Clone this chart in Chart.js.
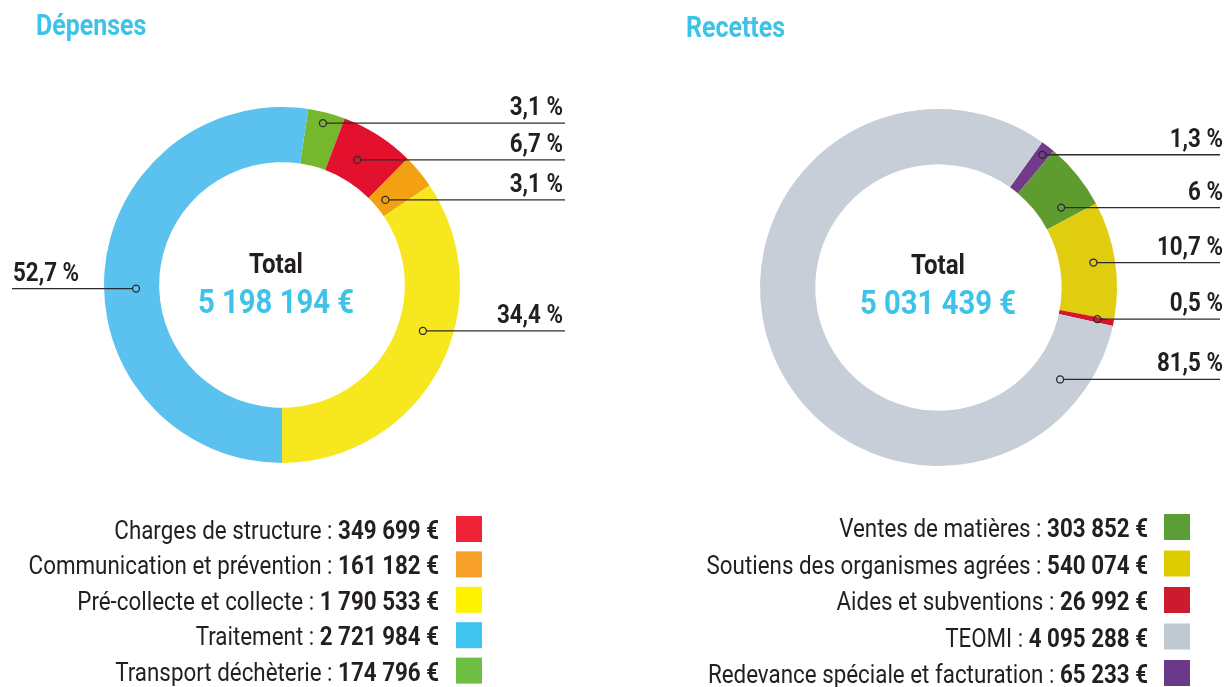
<!DOCTYPE html>
<html lang="fr">
<head>
<meta charset="utf-8">
<title>Dépenses et recettes</title>
<script src="https://cdn.jsdelivr.net/npm/chart.js@4/dist/chart.umd.min.js"></script>
<style>
  html, body { margin: 0; padding: 0; background: #fff; }
  body { width: 1227px; height: 687px; position: relative; overflow: hidden; }
  canvas { position: absolute; top: 0; }
  #graphDepenses { left: 0; }
  #graphRecettes { left: 613px; }
</style>
</head>
<body>
<canvas id="graphDepenses" width="613" height="687"></canvas>
<canvas id="graphRecettes" width="614" height="687"></canvas>
<script>
// Données : dépenses
const categoriesDepenses = ['Charges de structure', 'Communication et prévention', 'Pré-collecte et collecte', 'Traitement', 'Transport déchèterie'];
const montantsDepenses = [349699, 161182, 1790533, 2721984, 174796];
const pourcentagesDepenses = ['6,7 %', '3,1 %', '34,4 %', '52,7 %', '3,1 %'];
const couleursDepenses = ['#e3112e', '#f3a012', '#f6e71e', '#5bc2ef', '#75b82e'];
const couleursLegendeDepenses = ['#ee2337', '#f7a12a', '#fff200', '#40c4f0', '#6fbe44'];
const ordreDepenses = [4, 0, 1, 2, 3]; // ordre des parts dans le sens horaire

// Données : recettes
const categoriesRecettes = ['Ventes de matières', 'Soutiens des organismes agrées', 'Aides et subventions', 'TEOMI', 'Redevance spéciale et facturation'];
const montantsRecettes = [303852, 540074, 26992, 4095288, 65233];
const pourcentagesRecettes = ['6 %', '10,7 %', '0,5 %', '81,5 %', '1,3 %'];
const couleursRecettes = ['#5f9c30', '#e0cd0f', '#d3162b', '#c7ced8', '#743a8a'];
const couleursLegendeRecettes = ['#5a9e35', '#ddcd00', '#cc1a2e', '#c0c8d0', '#6a3a88'];
const ordreRecettes = [4, 0, 1, 2, 3];

const BLEU = '#3ec3e8';
const NOIR = '#231f20';
const SERRE = 0.86; // compression horizontale du texte (police étroite)

// Position des repères sur chaque part : t = avancée dans l'arc, u = profondeur dans l'anneau
const reperesDepenses = [
  { t: 0.43, u: 0.42 }, { t: 0.51, u: 0.20 }, { t: 0.42, u: 0.46 },
  { t: 0.47, u: 0.42, gauche: true }, { t: 0.47, u: 0.80 }
];
const reperesRecettes = [
  { t: 0.77, u: 0.42 }, { t: 0.49, u: 0.61 }, { t: 0.37, u: 0.70 },
  { t: 0.084, u: 0.53 }, { t: 0.54, u: 0.82 }
];

const formatEuros = (n) => n.toString().replace(/\B(?=(\d{3})+(?!\d))/g, ' ') + ' €';

function texte(ctx, str, x, y, font, couleur, align) {
  ctx.save();
  ctx.translate(x, y);
  ctx.scale(SERRE, 1);
  ctx.font = font;
  ctx.fillStyle = couleur;
  ctx.textAlign = align;
  ctx.textBaseline = 'alphabetic';
  ctx.fillText(str, 0, 0);
  ctx.restore();
}

function largeur(ctx, str, font) {
  ctx.save();
  ctx.font = font;
  const w = ctx.measureText(str).width * SERRE;
  ctx.restore();
  return w;
}

// Plugin : titre, total central, étiquettes reliées et légende
function habillage(cfg) {
  return {
    id: 'habillage',
    afterDatasetsDraw(chart) {
      const ctx = chart.ctx;
      const meta = chart.getDatasetMeta(0);

      texte(ctx, cfg.titre, cfg.titreX, cfg.titreY, 'bold 29px Roboto', BLEU, 'left');

      const total = cfg.montants.reduce((a, b) => a + b, 0);
      texte(ctx, 'Total', cfg.centreX, cfg.totalY, 'bold 28px Roboto', NOIR, 'center');
      texte(ctx, formatEuros(total), cfg.centreX, cfg.totalY + 40, 'bold 34px Roboto', BLEU, 'center');

      // étiquettes de pourcentage
      cfg.ordre.forEach((idx, k) => {
        const arc = meta.data[k].getProps(['x', 'y', 'startAngle', 'endAngle', 'innerRadius', 'outerRadius'], true);
        const rep = cfg.reperes[idx];
        const a = arc.startAngle + rep.t * (arc.endAngle - arc.startAngle);
        const r = arc.innerRadius + rep.u * (arc.outerRadius - arc.innerRadius);
        const px = arc.x + r * Math.cos(a);
        const py = arc.y + r * Math.sin(a);

        ctx.save();
        ctx.strokeStyle = '#2b2b2b';
        ctx.lineWidth = 1.3;
        ctx.beginPath();
        if (rep.gauche) {
          ctx.moveTo(cfg.ligneGauche, py);
          ctx.lineTo(px - 3.5, py);
        } else {
          ctx.moveTo(px + 3.5, py);
          ctx.lineTo(cfg.ligneDroite, py);
        }
        ctx.stroke();
        ctx.beginPath();
        ctx.arc(px, py, 3.5, 0, Math.PI * 2);
        ctx.stroke();
        ctx.restore();

        if (rep.gauche) {
          texte(ctx, cfg.pourcentages[idx], cfg.ligneGauche + 1, py - 8, 'bold 26px Roboto', NOIR, 'left');
        } else {
          texte(ctx, cfg.pourcentages[idx], cfg.texteDroite, py - 8, 'bold 26px Roboto', NOIR, 'right');
        }
      });

      // légende
      cfg.categories.forEach((cat, i) => {
        const haut = cfg.legendeY + i * cfg.legendePas;
        const base = haut + 23;
        const valeur = formatEuros(cfg.montants[i]);
        const fontG = 'bold 26px Roboto';
        const fontN = '26px Roboto';
        texte(ctx, valeur, cfg.legendeX, base, fontG, NOIR, 'right');
        const wv = largeur(ctx, valeur, fontG);
        texte(ctx, cat + ' : ', cfg.legendeX - wv, base, fontN, NOIR, 'right');
        ctx.fillStyle = cfg.couleursLegende[i];
        ctx.fillRect(cfg.carreX, haut, 26, 26);
      });
    }
  };
}

function creerGraphique(id, cfg) {
  const ctx = document.getElementById(id).getContext('2d');
  new Chart(ctx, {
    type: 'doughnut',
    data: {
      labels: cfg.ordre.map(i => cfg.categories[i]),
      datasets: [{
        data: cfg.ordre.map(i => cfg.montants[i]),
        backgroundColor: cfg.ordre.map(i => cfg.couleurs[i]),
        borderWidth: 0
      }]
    },
    options: {
      responsive: false,
      animation: false,
      devicePixelRatio: 1,
      cutout: '69%',
      rotation: cfg.rotation,
      layout: { padding: cfg.padding },
      plugins: {
        legend: { display: false },
        tooltip: { enabled: false }
      }
    },
    plugins: [habillage(cfg)]
  });
}

document.addEventListener('DOMContentLoaded', function () {
  creerGraphique('graphDepenses', {
    titre: 'Dépenses', titreX: 36, titreY: 35,
    categories: categoriesDepenses, montants: montantsDepenses,
    pourcentages: pourcentagesDepenses, couleurs: couleursDepenses,
    couleursLegende: couleursLegendeDepenses, ordre: ordreDepenses,
    reperes: reperesDepenses, rotation: 8.5,
    padding: { left: 104, right: 153, top: 107, bottom: 224 },
    centreX: 276, totalY: 273,
    ligneGauche: 12, ligneDroite: 565, texteDroite: 563,
    legendeX: 439, carreX: 456, legendeY: 516, legendePas: 35.4
  });
  creerGraphique('graphRecettes', {
    titre: 'Recettes', titreX: 73, titreY: 37,
    categories: categoriesRecettes, montants: montantsRecettes,
    pourcentages: pourcentagesRecettes, couleurs: couleursRecettes,
    couleursLegende: couleursLegendeRecettes, ordre: ordreRecettes,
    reperes: reperesRecettes, rotation: 35.5,
    padding: { left: 147, right: 110, top: 109, bottom: 221 },
    centreX: 325, totalY: 274,
    ligneGauche: 0, ligneDroite: 607, texteDroite: 610,
    legendeX: 535, carreX: 551, legendeY: 514, legendePas: 36.5
  });
});
</script>
</body>
</html>
